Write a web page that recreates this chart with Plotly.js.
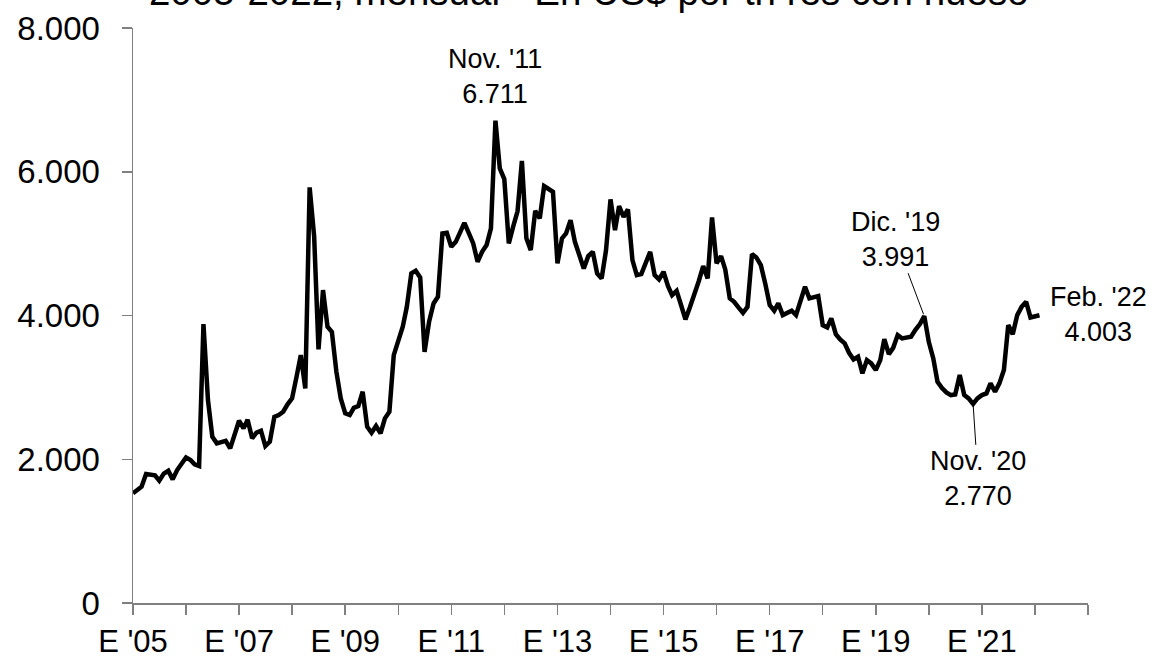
<!DOCTYPE html>
<html><head><meta charset="utf-8">
<script src="https://cdn.plot.ly/plotly-3.0.1.min.js"></script>
<style>html,body{margin:0;padding:0;background:#fff;} #chart{width:1159px;height:659px;}</style>
</head><body><div id="chart"></div>
<script>
const startYear = 2005;
const p2005 = [1526, 1570, 1618, 1794, 1790, 1776, 1701, 1800, 1840, 1720, 1850, 1940];
const p2006 = [2026, 1990, 1930, 1905, 3880, 2823, 2313, 2221, 2240, 2257, 2151, 2350];
const p2007 = [2536, 2430, 2550, 2291, 2370, 2397, 2184, 2244, 2590, 2615, 2661, 2764];
const p2008 = [2847, 3150, 3449, 2986, 5782, 5100, 3528, 4353, 3843, 3773, 3217, 2847];
const p2009 = [2638, 2615, 2716, 2740, 2939, 2452, 2368, 2462, 2360, 2569, 2661, 3449];
const p2010 = [3650, 3843, 4121, 4586, 4622, 4530, 3495, 3912, 4168, 4261, 5142, 5150];
const p2011 = [4955, 5025, 5150, 5289, 5150, 5003, 4747, 4886, 4979, 5212, 6711, 6046];
const p2012 = [5897, 5003, 5230, 5450, 6152, 5073, 4910, 5457, 5351, 5800, 5760, 5721];
const p2013 = [4725, 5073, 5142, 5327, 5025, 4816, 4655, 4826, 4886, 4586, 4516, 4905];
const p2014 = [5615, 5188, 5522, 5373, 5476, 4771, 4562, 4576, 4730, 4886, 4562, 4502];
const p2015 = [4608, 4409, 4284, 4343, 4150, 3946, 4110, 4284, 4480, 4687, 4516, 5364];
const p2016 = [4725, 4826, 4641, 4238, 4191, 4110, 4038, 4121, 4854, 4808, 4701, 4447];
const p2017 = [4145, 4066, 4168, 4006, 4040, 4066, 4006, 4200, 4400, 4238, 4250, 4270];
const p2018 = [3866, 3835, 3960, 3741, 3668, 3612, 3481, 3389, 3426, 3195, 3380, 3334];
const p2019 = [3241, 3380, 3670, 3463, 3550, 3727, 3682, 3690, 3705, 3800, 3880, 3991];
const p2020 = [3634, 3403, 3078, 2990, 2930, 2893, 2900, 3171, 2893, 2847, 2770, 2847];
const p2021 = [2893, 2916, 3056, 2939, 3056, 3241, 3866, 3741, 4006, 4120, 4191, 3973];
const p2022 = [3990, 4003];

const prices = [].concat(p2005, p2006, p2007, p2008, p2009, p2010, p2011, p2012, p2013,
  p2014, p2015, p2016, p2017, p2018, p2019, p2020, p2021, p2022);
const dates = prices.map((_, i) => {
  const y = startYear + Math.floor(i / 12);
  const m = (i % 12) + 1;
  return y + '-' + String(m).padStart(2, '0') + '-01';
});

const tickDates = ['2005-01-01','2006-01-01','2007-01-01','2008-01-01','2009-01-01','2010-01-01',
  '2011-01-01','2012-01-01','2013-01-01','2014-01-01','2015-01-01','2016-01-01','2017-01-01',
  '2018-01-01','2019-01-01','2020-01-01','2021-01-01','2022-01-01','2023-01-01'];
const tickLabels = ["E '05","","E '07","","E '09","","E '11","","E '13","","E '15","","E '17","","E '19","","E '21","",""];
const yTicks = [0, 2000, 4000, 6000, 8000];

const titleText = "2005-2022, mensual - En US$ por tn res con hueso";
const callouts = [
  {idx: 82,  text: "Nov. '11<br>6.711", arrow: false, dx: 0,   dy: -44},
  {idx: 179, text: "Dic. '19<br>3.991", arrow: true,  dx: -29, dy: -77},
  {idx: 190, text: "Nov. '20<br>2.770", arrow: true,  dx: 5,   dy: 75},
  {idx: 205, text: "Feb. '22<br>4.003", arrow: false, dx: 59,  dy: -1}
];

const FONT = 'Arial, "Liberation Sans", sans-serif';
const annFont = {family: FONT, size: 27, color: '#000'};
const annotations = callouts.map(c => c.arrow ? {
  x: dates[c.idx], y: prices[c.idx], xref: 'x', yref: 'y', text: c.text,
  showarrow: true, arrowhead: 0, arrowwidth: 1, arrowcolor: '#000',
  ax: c.dx, ay: c.dy, font: annFont, align: 'center', standoff: 2
} : {
  x: dates[c.idx], y: prices[c.idx], xref: 'x', yref: 'y', text: c.text,
  showarrow: false, xshift: c.dx, yshift: -c.dy, xanchor: 'center', yanchor: 'middle',
  font: annFont, align: 'center'
});

const trace = {
  x: dates, y: prices, type: 'scatter', mode: 'lines',
  line: {color: '#000', width: 4.5, shape: 'linear'}, hoverinfo: 'skip'
};

const axisCommon = {
  showline: true, linecolor: '#808080', linewidth: 1.5,
  ticks: 'outside', ticklen: 10, tickcolor: '#808080', tickwidth: 1.5,
  showgrid: false, zeroline: false
};

const layout = {
  width: 1159, height: 659,
  margin: {l: 133, r: 71, t: 28, b: 56, pad: 0},
  paper_bgcolor: '#fff', plot_bgcolor: '#fff',
  separators: ',.',
  showlegend: false,
  font: {family: FONT, color: '#000'},
  title: {text: titleText, font: {family: FONT, size: 38.5, color: '#000'},
          xref: 'container', x: 0.508, xanchor: 'center',
          yref: 'container', y: 0.992, yanchor: 'bottom'},
  xaxis: Object.assign({}, axisCommon, {
    type: 'date', range: ['2005-01-01', '2023-01-01'],
    tickmode: 'array', tickvals: tickDates, ticktext: tickLabels,
    tickfont: {family: FONT, size: 31, color: '#000'},
    ticklabelstandoff: 0
  }),
  yaxis: Object.assign({}, axisCommon, {
    range: [0, 8000], tickmode: 'array', tickvals: yTicks,
    tickformat: ',.0f', ticklabelstandoff: 15,
    tickfont: {family: FONT, size: 33, color: '#000'}
  }),
  annotations: annotations
};

Plotly.newPlot('chart', [trace], layout, {staticPlot: true, displayModeBar: false});
</script>
</body></html>
